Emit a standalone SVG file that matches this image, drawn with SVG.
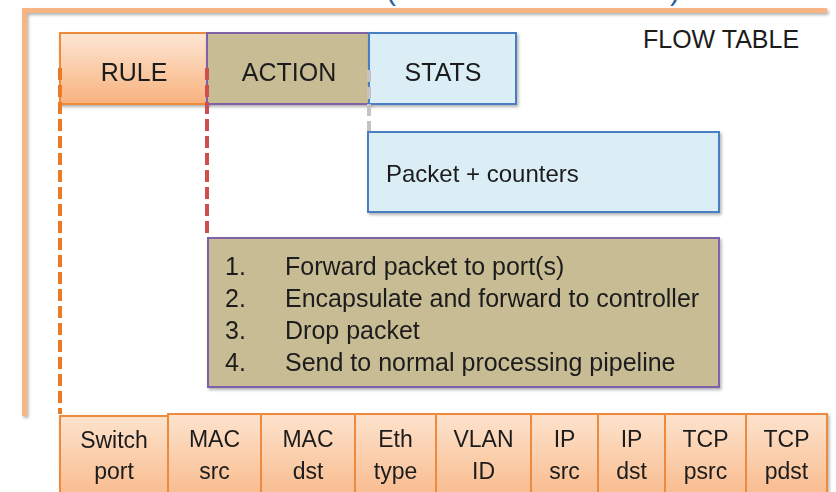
<svg xmlns="http://www.w3.org/2000/svg" width="836" height="492" viewBox="0 0 836 492">
  <defs>
    <linearGradient id="gOrange" x1="0" y1="0" x2="0" y2="1">
      <stop offset="0" stop-color="#fde6d3"/>
      <stop offset="1" stop-color="#f8b27e"/>
    </linearGradient>
    <linearGradient id="gCell" x1="0" y1="0" x2="0" y2="1">
      <stop offset="0" stop-color="#fde3cd"/>
      <stop offset="1" stop-color="#f8b786"/>
    </linearGradient>
    <filter id="sh" x="-10%" y="-10%" width="125%" height="130%">
      <feDropShadow dx="1.5" dy="2" stdDeviation="1.5" flood-color="#000" flood-opacity="0.3"/>
    </filter>
  </defs>
  <style>
    text { font-family: "Liberation Sans", Arial, sans-serif; fill: #1c1c1c; }
    .hdr { font-size: 25px; text-anchor: middle; }
    .cell rect { fill: url(#gCell); stroke: #ee8a3c; stroke-width: 2; }
    .cell text { font-size: 23px; text-anchor: middle; }
    .list { font-size: 25px; }
    .frame { stroke: #f8b584; stroke-width: 5; fill: none; }
    .dash { fill: none; stroke-width: 4; stroke-dasharray: 12 5; }
    .paren { font-size: 30px; fill: #2f5f9e; }
  </style>

  <rect width="836" height="492" fill="#ffffff"/>

  <!-- partially visible title parentheses -->
  <text class="paren" x="386" y="0">(</text>
  <text class="paren" x="670" y="0">)</text>

  <!-- outer frame -->
  <g id="frame" filter="url(#sh)">
    <path class="frame" d="M24.5 416 V10.5 H827"/>
  </g>

  <g id="flow-table-title">
    <text x="643" y="48" font-size="25">FLOW TABLE</text>
  </g>

  <g id="rule" filter="url(#sh)">
    <rect x="60" y="33" width="147" height="71" fill="url(#gOrange)" stroke="#ef8a3a" stroke-width="2"/>
    <text class="hdr" x="134" y="81">RULE</text>
  </g>
  <g id="action" filter="url(#sh)">
    <rect x="207" y="33" width="162" height="71" fill="#c8bc94" stroke="#8060a8" stroke-width="2"/>
    <text class="hdr" x="289" y="81">ACTION</text>
  </g>
  <g id="stats" filter="url(#sh)">
    <rect x="369" y="33" width="147" height="71" fill="#dbeef6" stroke="#4a7ec2" stroke-width="2"/>
    <text class="hdr" x="443" y="81">STATS</text>
  </g>

  <g id="connectors">
    <line class="dash" x1="60" y1="68" x2="60" y2="414" stroke="#ec7a25"/>
    <line class="dash" x1="207" y1="68" x2="207" y2="238" stroke="#cf4f4f"/>
    <line class="dash" x1="369" y1="70" x2="369" y2="131" stroke="#c4c4c4"/>
  </g>

  <g id="stats-detail" filter="url(#sh)">
    <rect x="368" y="132" width="351" height="80" fill="#dbeef6" stroke="#4a7ec2" stroke-width="2"/>
    <text x="386" y="182" font-size="24">Packet + counters</text>
  </g>

  <g id="action-detail" filter="url(#sh)">
    <rect x="208" y="238" width="511" height="149" fill="#c8bc94" stroke="#8060a8" stroke-width="2"/>
    <text class="list" x="225" y="275">1.</text>
    <text class="list" x="285" y="275">Forward packet to port(s)</text>
    <text class="list" x="225" y="307">2.</text>
    <text class="list" x="285" y="307">Encapsulate and forward to controller</text>
    <text class="list" x="225" y="339">3.</text>
    <text class="list" x="285" y="339">Drop packet</text>
    <text class="list" x="225" y="371">4.</text>
    <text class="list" x="285" y="371">Send to normal processing pipeline</text>
  </g>

  <g id="header-fields" filter="url(#sh)">
    <g id="f-switch-port" class="cell">
      <rect x="60" y="416" width="108" height="90"/>
      <text x="114" y="448">Switch</text><text x="114" y="479">port</text>
    </g>
    <g id="f-mac-src" class="cell">
      <rect x="168" y="414" width="93" height="92"/>
      <text x="214.5" y="447">MAC</text><text x="214.5" y="479">src</text>
    </g>
    <g id="f-mac-dst" class="cell">
      <rect x="261" y="414" width="94" height="92"/>
      <text x="308" y="447">MAC</text><text x="308" y="479">dst</text>
    </g>
    <g id="f-eth-type" class="cell">
      <rect x="355" y="414" width="81" height="92"/>
      <text x="395.5" y="447">Eth</text><text x="395.5" y="479">type</text>
    </g>
    <g id="f-vlan-id" class="cell">
      <rect x="436" y="414" width="95" height="92"/>
      <text x="483.5" y="447">VLAN</text><text x="483.5" y="479">ID</text>
    </g>
    <g id="f-ip-src" class="cell">
      <rect x="531" y="414" width="67" height="92"/>
      <text x="564.5" y="447">IP</text><text x="564.5" y="479">src</text>
    </g>
    <g id="f-ip-dst" class="cell">
      <rect x="598" y="414" width="67" height="92"/>
      <text x="631.5" y="447">IP</text><text x="631.5" y="479">dst</text>
    </g>
    <g id="f-tcp-psrc" class="cell">
      <rect x="665" y="414" width="81" height="92"/>
      <text x="705.5" y="447">TCP</text><text x="705.5" y="479">psrc</text>
    </g>
    <g id="f-tcp-pdst" class="cell">
      <rect x="746" y="414" width="81" height="92"/>
      <text x="786.5" y="447">TCP</text><text x="786.5" y="479">pdst</text>
    </g>
  </g>
</svg>
